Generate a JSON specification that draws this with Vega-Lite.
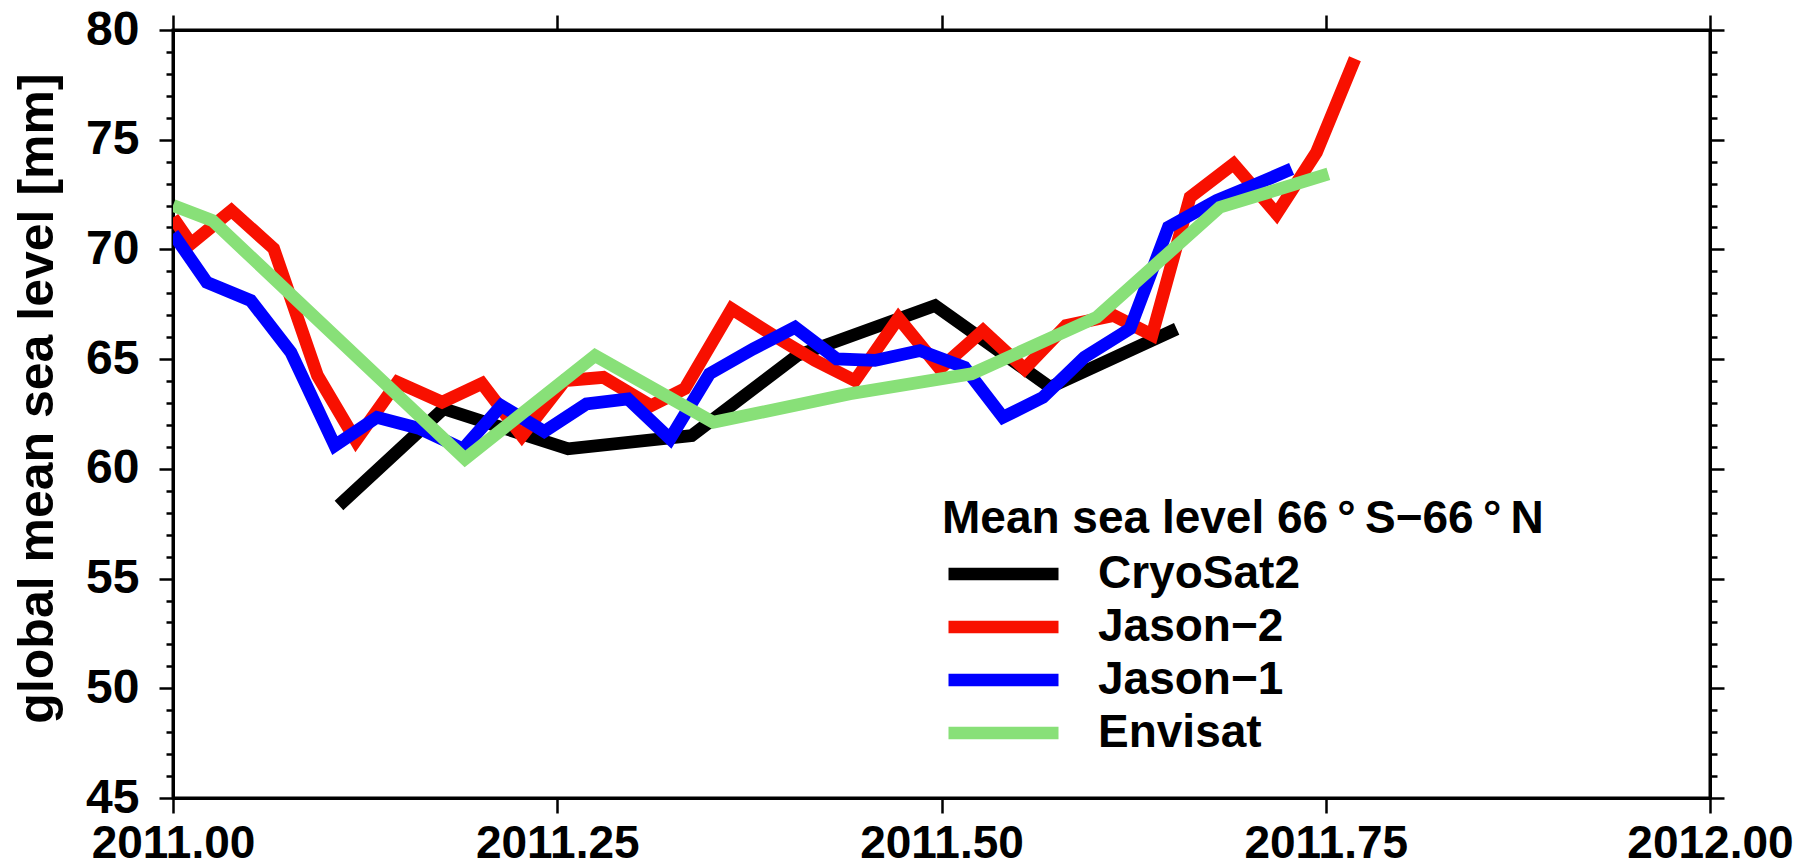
{
  "$schema": "https://vega.github.io/schema/vega-lite/v6.json",
  "width": 1537,
  "height": 768,
  "autosize": {"type": "none"},
  "padding": {"left": 173, "top": 30, "right": 99, "bottom": 68},
  "background": "white",
  "config": {
    "view": {"stroke": "black", "strokeWidth": 3},
    "font": "Liberation Sans",
    "axis": {
      "grid": false,
      "labelFont": "Liberation Sans",
      "labelFontWeight": "bold",
      "labelFontSize": 46,
      "labelColor": "black",
      "tickColor": "black",
      "tickWidth": 2.5,
      "domainColor": "black",
      "domainWidth": 3,
      "titleFont": "Liberation Sans",
      "titleFontWeight": "bold",
      "titleColor": "black"
    }
  },
  "data": {
    "values": [
      {"t": 2011.108, "msl": 58.33, "sat": "CryoSat2"},
      {"t": 2011.176, "msl": 62.74, "sat": "CryoSat2"},
      {"t": 2011.257, "msl": 60.91, "sat": "CryoSat2"},
      {"t": 2011.3375, "msl": 61.52, "sat": "CryoSat2"},
      {"t": 2011.406, "msl": 65.16, "sat": "CryoSat2"},
      {"t": 2011.4958, "msl": 67.44, "sat": "CryoSat2"},
      {"t": 2011.5706, "msl": 63.72, "sat": "CryoSat2"},
      {"t": 2011.653, "msl": 66.38, "sat": "CryoSat2"},

      {"t": 2011.0, "msl": 71.45, "sat": "Jason−2"},
      {"t": 2011.0117, "msl": 70.26, "sat": "Jason−2"},
      {"t": 2011.038, "msl": 71.77, "sat": "Jason−2"},
      {"t": 2011.0655, "msl": 70.04, "sat": "Jason−2"},
      {"t": 2011.094, "msl": 64.25, "sat": "Jason−2"},
      {"t": 2011.119, "msl": 61.29, "sat": "Jason−2"},
      {"t": 2011.146, "msl": 63.95, "sat": "Jason−2"},
      {"t": 2011.175, "msl": 63.04, "sat": "Jason−2"},
      {"t": 2011.201, "msl": 63.89, "sat": "Jason−2"},
      {"t": 2011.227, "msl": 61.5, "sat": "Jason−2"},
      {"t": 2011.255, "msl": 64.02, "sat": "Jason−2"},
      {"t": 2011.28, "msl": 64.17, "sat": "Jason−2"},
      {"t": 2011.311, "msl": 62.88, "sat": "Jason−2"},
      {"t": 2011.333, "msl": 63.65, "sat": "Jason−2"},
      {"t": 2011.3635, "msl": 67.29, "sat": "Jason−2"},
      {"t": 2011.3906, "msl": 66.08, "sat": "Jason−2"},
      {"t": 2011.4177, "msl": 64.94, "sat": "Jason−2"},
      {"t": 2011.4437, "msl": 64.02, "sat": "Jason−2"},
      {"t": 2011.472, "msl": 66.87, "sat": "Jason−2"},
      {"t": 2011.499, "msl": 64.56, "sat": "Jason−2"},
      {"t": 2011.527, "msl": 66.3, "sat": "Jason−2"},
      {"t": 2011.554, "msl": 64.56, "sat": "Jason−2"},
      {"t": 2011.581, "msl": 66.53, "sat": "Jason−2"},
      {"t": 2011.612, "msl": 66.99, "sat": "Jason−2"},
      {"t": 2011.637, "msl": 66.1, "sat": "Jason−2"},
      {"t": 2011.6617, "msl": 72.38, "sat": "Jason−2"},
      {"t": 2011.69, "msl": 73.9, "sat": "Jason−2"},
      {"t": 2011.718, "msl": 71.62, "sat": "Jason−2"},
      {"t": 2011.744, "msl": 74.43, "sat": "Jason−2"},
      {"t": 2011.769, "msl": 78.69, "sat": "Jason−2"},

      {"t": 2011.0, "msl": 70.72, "sat": "Jason−1"},
      {"t": 2011.022, "msl": 68.5, "sat": "Jason−1"},
      {"t": 2011.0506, "msl": 67.67, "sat": "Jason−1"},
      {"t": 2011.0767, "msl": 65.31, "sat": "Jason−1"},
      {"t": 2011.1053, "msl": 61.06, "sat": "Jason−1"},
      {"t": 2011.1327, "msl": 62.35, "sat": "Jason−1"},
      {"t": 2011.16, "msl": 61.85, "sat": "Jason−1"},
      {"t": 2011.1887, "msl": 60.91, "sat": "Jason−1"},
      {"t": 2011.2136, "msl": 62.88, "sat": "Jason−1"},
      {"t": 2011.2415, "msl": 61.7, "sat": "Jason−1"},
      {"t": 2011.269, "msl": 62.96, "sat": "Jason−1"},
      {"t": 2011.296, "msl": 63.19, "sat": "Jason−1"},
      {"t": 2011.3234, "msl": 61.37, "sat": "Jason−1"},
      {"t": 2011.349, "msl": 64.33, "sat": "Jason−1"},
      {"t": 2011.3776, "msl": 65.47, "sat": "Jason−1"},
      {"t": 2011.4047, "msl": 66.45, "sat": "Jason−1"},
      {"t": 2011.4318, "msl": 65.01, "sat": "Jason−1"},
      {"t": 2011.4567, "msl": 64.94, "sat": "Jason−1"},
      {"t": 2011.486, "msl": 65.39, "sat": "Jason−1"},
      {"t": 2011.515, "msl": 64.63, "sat": "Jason−1"},
      {"t": 2011.54, "msl": 62.35, "sat": "Jason−1"},
      {"t": 2011.566, "msl": 63.26, "sat": "Jason−1"},
      {"t": 2011.593, "msl": 65.09, "sat": "Jason−1"},
      {"t": 2011.6226, "msl": 66.38, "sat": "Jason−1"},
      {"t": 2011.6476, "msl": 71.01, "sat": "Jason−1"},
      {"t": 2011.679, "msl": 72.23, "sat": "Jason−1"},
      {"t": 2011.704, "msl": 72.95, "sat": "Jason−1"},
      {"t": 2011.7278, "msl": 73.67, "sat": "Jason−1"},

      {"t": 2011.0, "msl": 72.0, "sat": "Envisat"},
      {"t": 2011.0256, "msl": 71.32, "sat": "Envisat"},
      {"t": 2011.19, "msl": 60.46, "sat": "Envisat"},
      {"t": 2011.2746, "msl": 65.16, "sat": "Envisat"},
      {"t": 2011.3515, "msl": 62.12, "sat": "Envisat"},
      {"t": 2011.4405, "msl": 63.42, "sat": "Envisat"},
      {"t": 2011.5196, "msl": 64.33, "sat": "Envisat"},
      {"t": 2011.601, "msl": 66.91, "sat": "Envisat"},
      {"t": 2011.681, "msl": 71.92, "sat": "Envisat"},
      {"t": 2011.7517, "msl": 73.44, "sat": "Envisat"}
    ]
  },
  "layer": [
    {
      "mark": {"type": "line", "strokeWidth": 12.7, "strokeJoin": "miter", "strokeCap": "butt", "clip": true},
      "encoding": {
        "x": {
          "field": "t",
          "type": "quantitative",
          "scale": {"domain": [2011, 2012], "nice": false, "zero": false},
          "axis": {
            "orient": "bottom",
            "values": [2011, 2011.25, 2011.5, 2011.75, 2012],
            "format": ".2f",
            "tickSize": 15,
            "labelPadding": 8,
            "labelFlush": false,
            "labelOverlap": false,
            "title": null
          }
        },
        "y": {
          "field": "msl",
          "type": "quantitative",
          "scale": {"domain": [45, 80], "nice": false, "zero": false},
          "axis": {
            "orient": "left",
            "values": [45, 46, 47, 48, 49, 50, 51, 52, 53, 54, 55, 56, 57, 58, 59, 60, 61, 62, 63, 64, 65, 66, 67, 68, 69, 70, 71, 72, 73, 74, 75, 76, 77, 78, 79, 80],
            "labelExpr": "datum.value % 5 === 0 ? datum.label : ''",
            "labelFontSize": 48,
            "tickSize": {"condition": {"test": "datum.value % 5 === 0", "value": 14}, "value": 7},
            "labelPadding": 20,
            "labelFlush": false,
            "labelOverlap": false,
            "title": "global mean sea level [mm]",
            "titleFontSize": 50,
            "titleAngle": -90,
            "titleBaseline": "alphabetic",
            "titleAlign": "center",
            "titleX": -121,
            "titleY": 368
          }
        },
        "color": {
          "field": "sat",
          "type": "nominal",
          "scale": {
            "domain": ["CryoSat2", "Jason−2", "Jason−1", "Envisat"],
            "range": ["#000000", "#f81000", "#0000ff", "#88e078"]
          },
          "legend": {
            "orient": "none",
            "legendX": 769,
            "legendY": 467,
            "title": "\u2009\u200aMean sea level 66\u2009°\u2009S\u221266\u2009°\u2009N",
            "titleFont": "Liberation Sans",
            "titleFontSize": 46,
            "titleFontWeight": "bold",
            "titleColor": "black",
            "titlePadding": 8,
            "titleLimit": 0,
            "labelFont": "Liberation Sans",
            "labelFontSize": 46,
            "labelFontWeight": "bold",
            "labelColor": "black",
            "labelLimit": 0,
            "symbolType": "stroke",
            "symbolSize": 12100,
            "symbolStrokeWidth": 12.7,
            "symbolOffset": 0,
            "labelOffset": 33,
            "rowPadding": 7,
            "clipHeight": 46,
            "padding": 0
          }
        }
      }
    },
    {
      "mark": {"type": "line", "opacity": 0},
      "encoding": {
        "x": {
          "field": "t",
          "type": "quantitative",
          "axis": {
            "orient": "top",
            "values": [2011, 2011.25, 2011.5, 2011.75, 2012],
            "labels": false,
            "tickSize": 15,
            "title": null
          }
        },
        "y": {
          "field": "msl",
          "type": "quantitative",
          "axis": {
            "orient": "right",
            "values": [45, 46, 47, 48, 49, 50, 51, 52, 53, 54, 55, 56, 57, 58, 59, 60, 61, 62, 63, 64, 65, 66, 67, 68, 69, 70, 71, 72, 73, 74, 75, 76, 77, 78, 79, 80],
            "labels": false,
            "tickSize": {"condition": {"test": "datum.value % 5 === 0", "value": 14}, "value": 7},
            "title": null
          }
        },
        "detail": {"field": "sat"}
      }
    }
  ],
  "resolve": {"axis": {"x": "independent", "y": "independent"}}
}
